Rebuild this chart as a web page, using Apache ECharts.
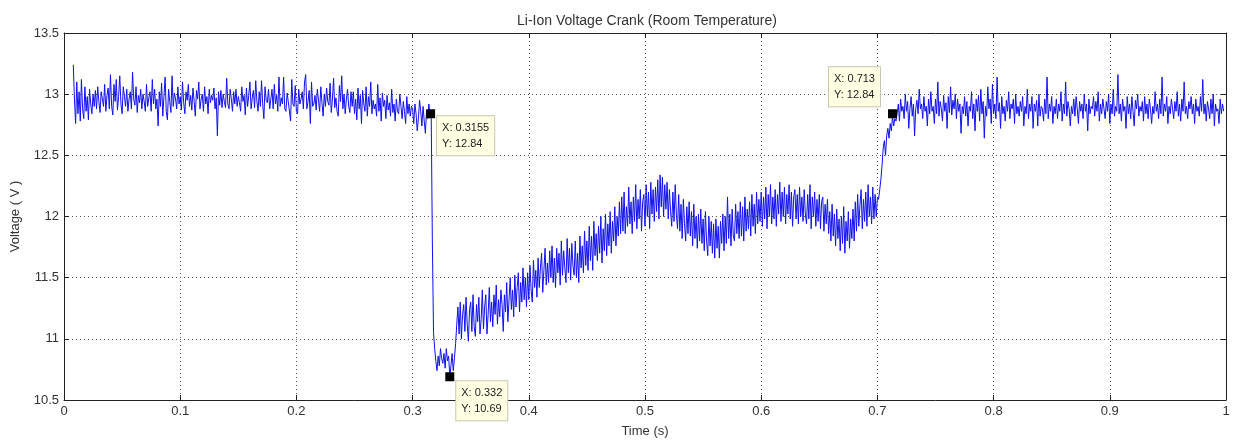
<!DOCTYPE html>
<html>
<head>
<meta charset="utf-8">
<script src="https://cdn.jsdelivr.net/npm/echarts@6/dist/echarts.min.js"></script>
<style>
html,body{margin:0;padding:0;background:#fff;}
#chart{width:1234px;height:443px;}
</style>
</head>
<body>
<div id="chart"></div>
<script>
// Sampling of the trace (s)
const START = 0.008;
const STEP = 0.001;

// 0.008 – 0.299 s : battery at rest
const preCrank = [
13.24,12.96,12.76,13.10,12.84,13.02,12.78,13.12,12.88,12.80,
13.06,12.86,12.98,12.79,13.04,12.92,12.84,13.00,12.90,13.03,
12.88,13.06,12.94,12.85,13.02,12.96,12.90,13.08,12.86,12.99,
13.05,12.88,13.16,12.90,12.83,13.08,12.94,13.12,12.87,12.98,
13.15,12.92,12.84,13.06,12.98,12.90,13.04,12.86,12.96,13.02,
12.88,13.18,12.96,12.91,13.06,12.85,12.99,12.93,13.04,12.88,
13.00,12.94,12.86,13.08,12.90,12.97,13.02,12.86,13.12,12.92,
13.04,12.88,12.96,12.74,13.02,12.90,13.09,12.82,12.98,13.14,
12.86,12.79,13.04,12.94,12.85,13.15,12.90,13.01,12.96,12.88,
13.06,12.92,12.98,12.87,13.10,12.93,12.84,13.02,12.95,13.08,
12.90,12.99,12.87,13.05,12.94,12.82,13.03,12.96,13.10,12.88,
12.96,13.00,12.86,13.06,12.92,12.98,12.84,13.04,12.93,12.99,
12.95,13.05,12.88,12.97,12.66,13.02,12.91,13.03,12.89,13.00,
12.94,12.89,13.13,12.92,12.88,13.04,12.96,12.86,13.02,12.92,
13.04,12.90,12.98,12.93,12.86,13.06,12.94,12.99,12.83,13.05,
12.90,12.99,13.10,12.88,12.97,13.03,12.89,13.11,12.94,12.86,
13.02,12.90,13.11,12.92,12.80,13.06,12.95,12.93,13.04,12.88,
12.96,13.04,12.88,13.08,12.92,12.99,12.86,13.14,12.90,12.97,
12.92,13.14,12.88,12.86,13.01,12.94,12.95,12.78,13.12,12.92,
12.90,13.07,12.86,12.84,13.04,12.92,12.96,13.02,12.88,13.10,
13.16,12.88,12.94,13.03,12.76,13.10,12.90,12.92,12.99,12.87,
13.04,12.95,12.86,13.06,12.93,12.82,13.00,12.90,13.05,12.94,
12.91,13.09,12.85,12.96,13.13,12.89,12.97,12.86,12.82,13.07,
12.94,13.15,12.88,13.00,12.84,12.96,13.04,12.90,12.85,13.02,
12.90,13.02,12.84,12.96,12.79,13.05,12.88,12.99,12.76,13.03,
12.92,12.86,13.06,12.82,12.98,12.90,13.10,12.84,12.95,12.88,
12.92,12.82,13.08,12.86,12.97,12.78,13.01,12.90,12.95,12.80,
12.99,12.87,12.93,12.82,13.04,12.85,12.92,12.78,12.96,12.86,
12.84,13.00,12.90,12.80,12.94,12.86,12.76,12.98,12.84,12.92,
12.82,12.90
];
// 0.300 – 0.316 s
const preDrop = [12.88,12.76,12.92,12.84,12.70,12.80,12.95,12.86,12.74,12.90,12.78,12.68,12.86,12.80,12.92,12.82,12.84];
// 0.317 – 0.338 s : crank
const crankDip = [11.80,11.05,10.92,10.82,10.74,10.86,10.78,10.92,10.84,10.80,10.88,10.76,10.92,10.82,10.86,10.69,10.78,10.88,10.74,10.84,10.96,11.12];
// 0.339 – 0.700 s : cranking recovery
const recovery = [
11.26,11.04,11.30,11.00,11.20,11.28,11.06,11.34,11.12,10.98,
11.24,11.30,11.06,11.36,11.10,11.02,11.28,11.14,11.34,11.04,
11.16,11.40,11.08,11.26,11.36,11.04,11.20,11.42,11.14,11.30,
11.10,11.36,11.20,11.44,11.12,11.32,11.18,11.40,11.28,11.06,
11.36,11.22,11.46,11.14,11.32,11.50,11.24,11.40,11.18,11.52,
11.26,11.42,11.54,11.22,11.46,11.30,11.58,11.32,11.50,11.26,
11.54,11.32,11.60,11.40,11.30,11.64,11.42,11.56,11.34,11.66,
11.42,11.58,11.70,11.38,11.56,11.74,11.44,11.62,11.46,11.72,
11.50,11.76,11.46,11.66,11.42,11.74,11.54,11.70,11.44,11.80,
11.52,11.72,11.58,11.46,11.82,11.54,11.74,11.48,11.78,11.60,
11.52,11.80,11.50,11.70,11.46,11.84,11.58,11.76,11.54,11.88,
11.60,11.80,11.56,11.92,11.64,11.84,11.56,11.96,11.68,11.86,
11.64,11.92,11.70,12.00,11.62,11.90,11.72,12.02,11.68,11.94,
11.76,12.04,11.70,11.96,11.80,12.08,11.76,12.00,11.84,12.12,
11.86,12.16,11.88,12.20,11.86,12.08,11.92,12.24,11.94,12.12,
11.86,12.16,11.96,12.26,11.90,12.14,11.98,12.22,11.88,12.12,
12.18,11.92,12.26,12.00,12.20,11.90,12.28,12.02,12.22,11.96,
12.24,12.04,12.30,11.98,12.34,12.08,12.32,12.00,12.26,12.06,
12.28,11.98,12.22,12.04,11.92,12.20,11.96,12.26,12.02,11.90,
12.18,11.88,12.10,11.82,12.14,11.94,11.80,12.08,11.86,12.12,
11.84,12.04,11.76,12.10,11.82,12.00,11.74,12.02,11.80,12.06,
11.78,11.98,11.72,12.04,11.80,11.68,12.00,11.76,11.96,11.70,
11.94,11.66,11.98,11.74,11.92,11.66,11.96,11.78,12.02,11.72,
12.00,11.78,12.16,11.82,12.02,11.76,12.06,11.84,11.80,12.10,
11.86,12.04,11.82,12.12,11.84,12.08,11.80,12.16,11.88,12.06,
11.90,12.12,11.84,12.18,11.92,12.10,11.86,12.20,11.94,12.14,
11.96,12.20,11.92,12.16,11.98,12.24,11.90,12.18,12.00,12.26,
11.94,12.16,11.98,12.22,11.92,12.18,12.02,12.28,11.96,12.20,
12.00,12.24,11.94,12.18,12.02,12.26,11.98,12.20,11.92,12.16,
12.22,11.98,12.18,11.94,12.24,12.00,12.16,11.96,12.22,12.02,
11.94,12.18,11.98,12.26,11.90,12.16,12.00,12.20,11.92,12.14,
11.96,12.18,11.90,12.12,12.16,11.88,12.10,11.94,12.14,11.86,
12.04,11.80,12.10,11.84,12.02,11.76,12.06,11.82,11.98,11.72,
12.00,11.78,12.08,11.70,11.96,11.80,12.04,11.74,11.98,11.82,
12.06,11.80,12.12,11.88,12.18,11.92,12.10,12.22,11.90,12.14,
11.96,12.20,11.92,12.26,12.00,12.16,11.94,12.24,11.98,12.18,
12.00,12.16
];
// 0.701 – 0.716 s : engine start
const release = [12.14,12.22,12.30,12.42,12.56,12.62,12.50,12.66,12.72,12.64,12.76,12.70,12.82,12.74,12.80,12.78];
// 0.717 – 0.998 s : charging
const postCrank = [
12.84,12.92,12.78,12.96,12.86,12.90,12.80,13.00,12.86,12.94,
12.72,12.88,12.98,12.82,12.92,12.66,12.88,12.95,12.84,13.04,
12.88,12.92,12.80,12.98,12.86,12.90,12.74,12.96,12.84,13.02,
12.86,12.90,12.76,12.96,12.84,13.10,12.82,12.94,12.88,12.78,
12.99,12.86,12.93,12.72,12.98,12.85,13.06,12.83,12.95,12.88,
13.00,12.80,12.96,12.86,12.92,12.68,12.90,12.84,12.98,12.82,
12.94,12.74,12.90,12.86,13.02,12.80,12.92,12.70,12.96,12.86,
12.99,12.78,13.04,12.84,12.94,12.64,12.90,12.82,13.06,12.88,
12.96,12.76,13.08,12.84,12.92,12.80,13.14,12.86,12.93,12.72,
12.98,12.84,12.90,12.78,12.95,12.86,13.02,12.80,12.92,12.88,
12.96,12.76,13.00,12.84,12.90,12.82,12.94,12.86,12.98,12.74,
12.90,12.84,13.04,12.80,12.92,12.86,12.98,12.72,12.92,12.86,
12.95,12.74,13.00,12.82,12.90,12.88,12.78,12.96,12.84,13.14,
12.80,12.92,12.86,12.98,12.76,12.90,12.84,12.96,12.80,12.92,
12.86,13.02,12.78,12.92,12.84,13.10,12.82,12.94,12.88,12.74,
12.90,12.84,12.96,12.82,12.98,12.88,12.76,12.94,12.86,12.92,
12.80,13.00,12.86,12.92,12.70,12.96,12.84,12.90,12.88,12.98,
12.82,12.94,12.86,13.02,12.78,12.92,12.84,12.96,12.88,12.80,
12.94,12.86,13.00,12.76,12.92,12.84,13.04,12.82,12.90,12.86,
13.16,12.84,12.92,12.78,12.96,12.86,12.90,12.72,12.98,12.84,
12.92,12.80,12.98,12.86,12.74,12.95,12.88,13.00,12.82,12.90,
12.86,12.94,12.78,12.98,12.84,12.92,12.80,12.96,12.88,12.76,
12.90,12.84,13.02,12.86,12.92,12.80,12.96,12.84,13.14,12.82,
12.92,12.86,12.98,12.76,12.90,12.84,12.96,12.88,12.80,12.94,
12.86,13.02,12.82,12.92,12.78,12.96,12.86,13.10,12.84,12.90,
12.80,12.94,12.88,12.98,12.84,12.92,12.76,12.96,12.86,12.90,
12.82,12.98,12.86,13.12,12.84,12.92,12.78,12.94,12.88,12.80,
12.96,12.84,13.00,12.74,12.92,12.86,12.88,12.76,12.96,12.84,
12.92,12.86
];

// Data tips
const tipX = [0.3155, 0.332, 0.713];
const tipY = [12.84, 10.69, 12.84];

const voltage = [].concat(preCrank, preDrop, crankDip, recovery, release, postCrank);
const trace = voltage.map((v, i) => [+(START + i * STEP).toFixed(4), v]);

const labelOffsets = [[11, 7], [11, 9], [-59, -42]];
const tips = tipX.map((x, i) => ({
  value: [x, tipY[i]],
  label: {
    show: true,
    position: labelOffsets[i],
    formatter: 'X: ' + x + '\nY: ' + tipY[i].toFixed(2),
    backgroundColor: '#ffffe4',
    borderColor: '#c8c8b0',
    borderWidth: 1,
    padding: [4, 5, 3, 5],
    color: '#222',
    fontSize: 11,
    lineHeight: 16,
    fontFamily: 'Liberation Sans, Arial, sans-serif'
  }
}));

const FONT = 'Liberation Sans, Arial, sans-serif';
const tickFont = { color: '#333', fontSize: 13, fontFamily: FONT };
const chart = echarts.init(document.getElementById('chart'), null, { renderer: 'canvas' });
chart.setOption({
  animation: false,
  backgroundColor: '#fff',
  title: {
    text: 'Li-Ion Voltage Crank (Room Temperature)',
    left: 642, top: 9, textAlign: 'center',
    textStyle: { fontSize: 14, fontWeight: 'normal', color: '#333', fontFamily: FONT }
  },
  grid: { left: 64, right: 8, top: 33, bottom: 41 },
  xAxis: [{
    type: 'value', min: 0, max: 1, interval: 0.1,
    name: 'Time (s)', nameLocation: 'middle', nameGap: 25,
    nameTextStyle: tickFont,
    axisLine: { onZero: false, lineStyle: { color: '#222', width: 1 } },
    axisTick: { inside: true, length: 5, lineStyle: { color: '#222' } },
    axisLabel: Object.assign({ margin: 5 }, tickFont),
    splitLine: { show: true, lineStyle: { type: [1, 3], color: '#555', width: 1 } }
  }, {
    type: 'value', min: 0, max: 1, interval: 0.1, position: 'top',
    axisLine: { onZero: false, lineStyle: { color: '#222', width: 1 } },
    axisTick: { inside: true, length: 5, lineStyle: { color: '#222' } },
    axisLabel: { show: false }, splitLine: { show: false }
  }],
  yAxis: [{
    type: 'value', min: 10.5, max: 13.5, interval: 0.5,
    name: 'Voltage ( V )', nameLocation: 'middle', nameGap: 42, nameRotate: 90,
    nameTextStyle: tickFont,
    axisLine: { show: true, onZero: false, lineStyle: { color: '#222', width: 1 } },
    axisTick: { show: true, inside: true, length: 5, lineStyle: { color: '#222' } },
    axisLabel: Object.assign({ margin: 5 }, tickFont),
    splitLine: { show: true, lineStyle: { type: [1, 3], color: '#555', width: 1 } }
  }, {
    type: 'value', min: 10.5, max: 13.5, interval: 0.5, position: 'right',
    axisLine: { show: true, onZero: false, lineStyle: { color: '#222', width: 1 } },
    axisTick: { show: true, inside: true, length: 5, lineStyle: { color: '#222' } },
    axisLabel: { show: false }, splitLine: { show: false }
  }],
  series: [{
    type: 'line',
    data: trace,
    showSymbol: false,
    lineStyle: { color: '#1010f0', width: 1 },
    z: 3
  }, {
    type: 'scatter',
    data: tips,
    symbol: 'rect',
    symbolSize: 9,
    itemStyle: { color: '#000', opacity: 1 },
    z: 5
  }]
});
</script>
</body>
</html>
